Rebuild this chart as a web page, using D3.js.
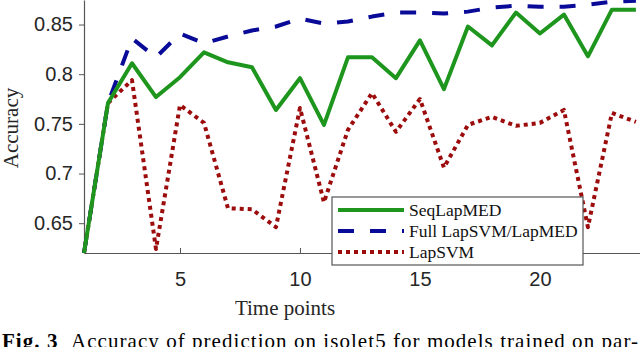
<!DOCTYPE html>
<html>
<head>
<meta charset="utf-8">
<script src="https://cdn.jsdelivr.net/npm/d3@7"></script>
<style>
  body { margin: 0; background: #fff; }
  svg { display: block; }
  .tick text { font-family: "Liberation Sans", Arial, sans-serif; font-size: 20px; fill: #262626; }
</style>
</head>
<body>
<div id="chart"></div>
<script>
// time points 1..24
var timePoints = d3.range(1, 25);

var seqLapMED = [0.620, 0.771, 0.811, 0.777, 0.797, 0.822, 0.812, 0.807, 0.764, 0.796,
                 0.749, 0.817, 0.817, 0.796, 0.834, 0.785, 0.848, 0.829, 0.862, 0.841,
                 0.860, 0.818, 0.865, 0.865];

var fullLapSVM = [0.620, 0.771, 0.836, 0.817, 0.841, 0.831, 0.838, 0.844, 0.848, 0.856,
                  0.851, 0.853, 0.858, 0.862, 0.862, 0.861, 0.863, 0.867, 0.869, 0.868,
                  0.868, 0.870, 0.873, 0.874];

var lapSVM = [0.620, 0.771, 0.794, 0.624, 0.769, 0.751, 0.665, 0.664, 0.646, 0.766,
              0.671, 0.744, 0.781, 0.742, 0.775, 0.706, 0.749, 0.757, 0.748, 0.751,
              0.764, 0.646, 0.761, 0.752];

var yTicks = [0.65, 0.7, 0.75, 0.8, 0.85];
var xTicks = [5, 10, 15, 20];

var seriesNames = ["SeqLapMED", "Full LapSVM/LapMED", "LapSVM"];

(function() {
    var series = [
        {name: seriesNames[0], values: seqLapMED, color: "#1e961e", dash: null},
        {name: seriesNames[1], values: fullLapSVM, color: "#0a0a98", dash: "16,16"},
        {name: seriesNames[2], values: lapSVM, color: "#9c0c0c", dash: "4,4"}
    ];

    var width = 640,
        height = 347,
        plotLeft = 84,
        plotRight = 640,
        plotTop = 0,
        plotBottom = 253,
        axisColor = "#555",
        serif = "'Liberation Serif', 'Times New Roman', serif";

    var svg = d3.select("#chart").append("svg")
                .attr("width", width)
                .attr("height", height);

    var x = d3.scaleLinear().domain([1, 24.17]).range([plotLeft, plotRight]);
    var y = d3.scaleLinear().domain([0.62, 0.8747]).range([plotBottom, plotTop]);

    // x axis (ticks point inward)
    var xAxis = svg.append("g")
                   .attr("transform", "translate(0," + plotBottom + ")")
                   .call(d3.axisBottom(x).tickValues(xTicks).tickSizeInner(-5).tickSizeOuter(0).tickPadding(19)
                           .tickFormat(d3.format("d")));
    xAxis.select(".domain").attr("stroke", axisColor).attr("stroke-width", 1.2);
    xAxis.selectAll(".tick line").attr("stroke", axisColor);

    // y axis
    var yAxis = svg.append("g")
                   .attr("transform", "translate(" + plotLeft + ",0)")
                   .call(d3.axisLeft(y).tickValues(yTicks).tickSizeInner(5).tickSizeOuter(0).tickPadding(6)
                           .tickFormat(function(d) { return String(+d.toFixed(2)); }));
    yAxis.select(".domain").attr("stroke", axisColor).attr("stroke-width", 1.2);
    yAxis.selectAll(".tick line").attr("stroke", axisColor);

    var line = d3.line()
                 .x(function(d, i) { return x(timePoints[i]); })
                 .y(function(d) { return y(d); });

    var plot = svg.append("g");

    // draw in reverse so green sits on top like the original
    series.slice().reverse().forEach(function(s) {
        plot.append("path")
            .attr("d", line(s.values))
            .attr("fill", "none")
            .attr("stroke", s.color)
            .attr("stroke-width", 4)
            .attr("stroke-dasharray", s.dash)
            .attr("stroke-linejoin", "round");
    });

    // axis labels
    svg.append("text")
       .attr("transform", "translate(18,128) rotate(-90)")
       .attr("text-anchor", "middle")
       .style("font-family", serif)
       .style("font-size", "21px")
       .style("fill", "#262626")
       .text("Accuracy");

    svg.append("text")
       .attr("x", 285)
       .attr("y", 315)
       .attr("text-anchor", "middle")
       .style("font-family", serif)
       .style("font-size", "21px")
       .style("fill", "#262626")
       .text("Time points");

    // legend
    var legend = svg.append("g").attr("transform", "translate(332,197)");
    legend.append("rect")
          .attr("width", 251)
          .attr("height", 68)
          .attr("fill", "#fff")
          .attr("stroke", axisColor)
          .attr("stroke-width", 1.2);

    var rows = legend.selectAll(".legendRow")
                     .data(series)
                     .enter()
                     .append("g")
                     .attr("class", "legendRow")
                     .attr("transform", function(d, i) { return "translate(0," + (13 + i * 21) + ")"; });

    rows.append("line")
        .attr("x1", 6)
        .attr("x2", 72)
        .attr("stroke", function(d) { return d.color; })
        .attr("stroke-width", 4)
        .attr("stroke-dasharray", function(d) { return d.dash; });

    rows.append("text")
        .attr("x", 77)
        .attr("y", 6)
        .style("font-family", serif)
        .style("font-size", "17.5px")
        .style("fill", "#111")
        .text(function(d) { return d.name; });

    // caption
    var caption = svg.append("text")
                     .attr("x", 2)
                     .attr("y", 348)
                     .attr("textLength", 636)
                     .attr("lengthAdjust", "spacing")
                     .style("font-family", serif)
                     .style("font-size", "21px")
                     .style("fill", "#000");
    caption.append("tspan").style("font-weight", "bold").text("Fig. 3");
    caption.append("tspan").text("\u00a0\u00a0Accuracy of prediction on isolet5 for models trained on par-");
})();
</script>
</body>
</html>
